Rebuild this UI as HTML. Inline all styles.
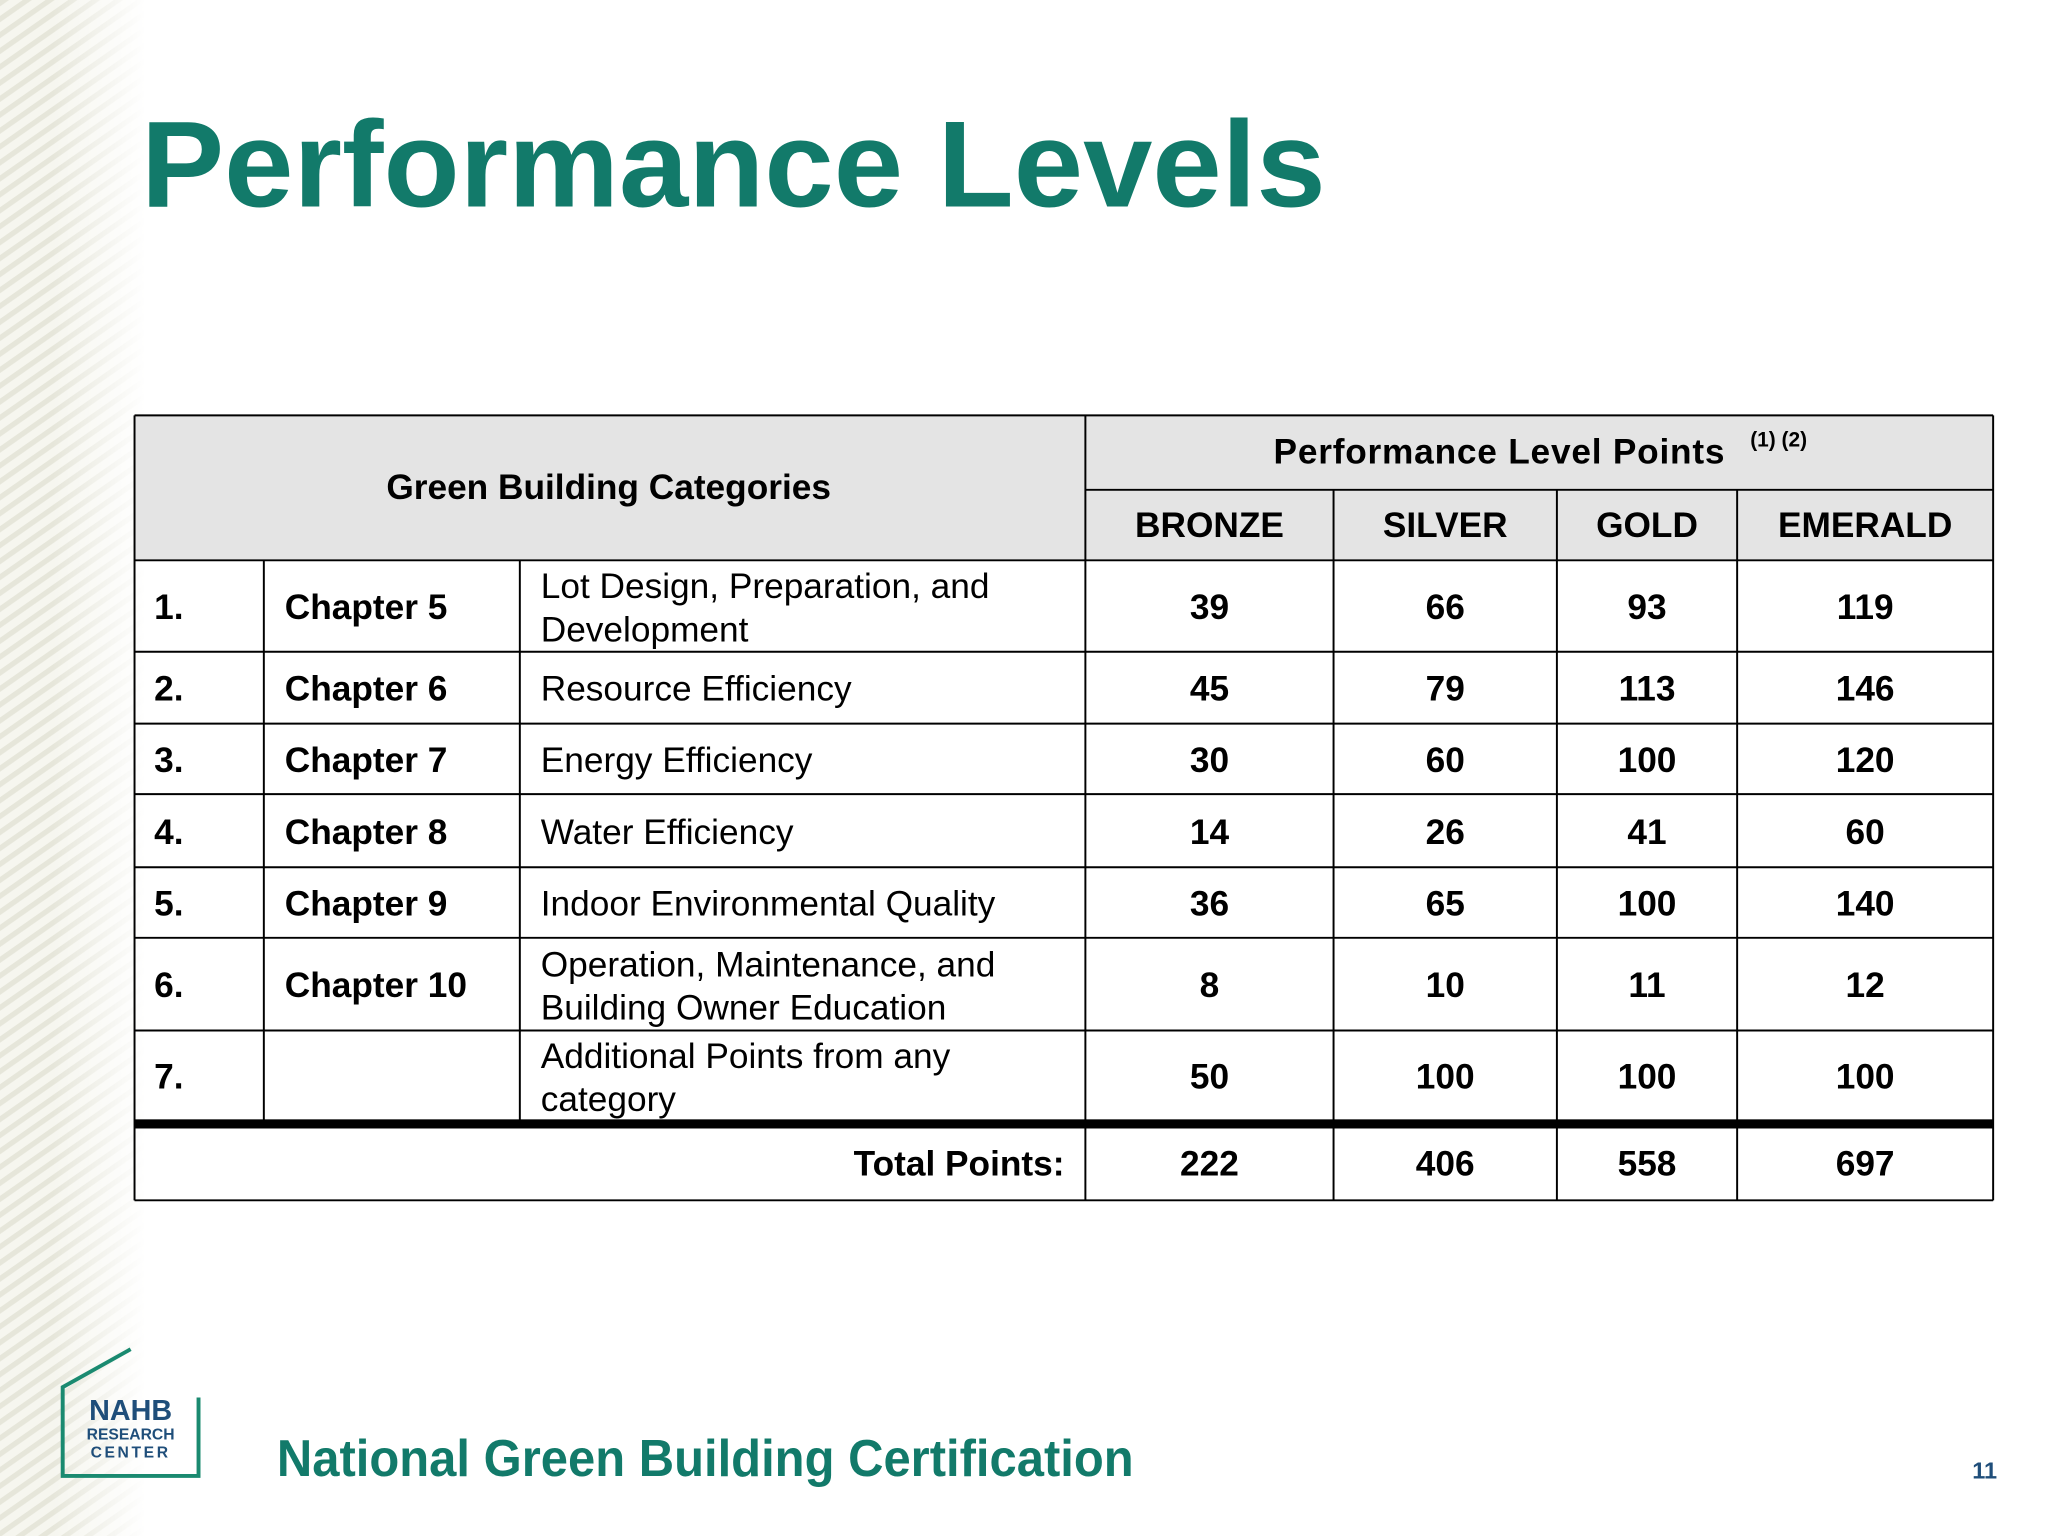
<!DOCTYPE html>
<html><head><meta charset="utf-8"><style>
html,body{margin:0;padding:0;background:#fff}
svg{display:block}
text{font-family:"Liberation Sans",sans-serif}
</style></head><body>
<svg id="s" width="2048" height="1536" viewBox="0 0 1568 1176">
<defs>
<pattern id="stripe" width="10" height="10" patternUnits="userSpaceOnUse" patternTransform="rotate(-35)">
<rect width="10" height="10" fill="#f6f6ef"/><rect width="10" height="4" fill="#e6e6da"/></pattern>
<linearGradient id="fade" x1="0" x2="1"><stop offset="0" stop-color="#fff" stop-opacity="0"/><stop offset="1" stop-color="#fff" stop-opacity="1"/></linearGradient>
</defs>
<rect x="0" y="0" width="110" height="1176" fill="url(#stripe)"/>
<rect x="40" y="0" width="72" height="1176" fill="url(#fade)"/>
<text x="108" y="158" font-size="94" font-weight="bold" fill="#127a6a" textLength="907" lengthAdjust="spacingAndGlyphs">Performance Levels</text>
<g id="tbl"></g>
<g>
<polyline points="100,1033 48,1062 48,1130 152,1130 152,1070" fill="none" stroke="#1a8a70" stroke-width="3"/>
<text x="100" y="1087" font-size="22" font-weight="bold" fill="#1f4e7a" text-anchor="middle">NAHB</text>
<text x="100" y="1102" font-size="12" font-weight="bold" fill="#1f4e7a" text-anchor="middle">RESEARCH</text>
<text x="100" y="1116" font-size="12" font-weight="bold" fill="#1f4e7a" text-anchor="middle" letter-spacing="2">CENTER</text>
</g>
<text x="212" y="1130" font-size="40" font-weight="bold" fill="#127a6a" textLength="656" lengthAdjust="spacingAndGlyphs">National Green Building Certification</text>
<text x="1510" y="1132" font-size="18" font-weight="bold" fill="#1f4e7a">11</text>
</svg>
<script>
const nums=["1.","2.","3.","4.","5.","6.","7."];
const chapters=["Chapter 5","Chapter 6","Chapter 7","Chapter 8","Chapter 9","Chapter 10",""];
const descs=[["Lot Design, Preparation, and","Development"],["Resource Efficiency"],["Energy Efficiency"],["Water Efficiency"],["Indoor Environmental  Quality"],["Operation, Maintenance, and","Building Owner Education"],["Additional Points from any","category"]];
const levels=["BRONZE","SILVER","GOLD","EMERALD"];
const bronze=[39,45,30,14,36,8,50];
const silver=[66,79,60,26,65,10,100];
const gold=[93,113,100,41,100,11,100];
const emerald=[119,146,120,60,140,12,100];
const totals=[222,406,558,697];
const g=document.getElementById('tbl');const NS="http://www.w3.org/2000/svg";
function el(t,a,txt){const e=document.createElementNS(NS,t);for(const k in a)e.setAttribute(k,a[k]);if(txt!=null)e.textContent=txt;g.appendChild(e);return e;}
const X=[103,202,398,831,1021,1192,1330,1526];
const Y=[429,499,554,608,664,718,789,858];
const series=[bronze,silver,gold,emerald];
let r=el('rect',{x:103,y:318,width:1423,height:111,fill:'#e4e4e4'});


const L=(x1,y1,x2,y2,w)=>el('line',{x1,y1,x2,y2,stroke:'#000','stroke-width':w||1.5});
L(103,318,1526,318);L(831,375,1526,375);L(103,429,1526,429);
for(let i=1;i<Y.length-1;i++)L(103,Y[i],1526,Y[i]);
el('rect',{x:103,y:857,width:1423,height:7,fill:'#000'});
L(103,919,1526,919);
L(103,318,103,919);L(1526,318,1526,919);L(831,318,831,919);
for(const x of [1021,1192,1330])L(x,375,x,919);
for(const x of [202,398])L(x,429,x,858);
const T=(x,y,s,o)=>{const t=el('text',Object.assign({x,y,'font-size':27,fill:'#000'},o||{}),s);return t;};
let t=T(466,382,"Green Building Categories",{'text-anchor':'middle','font-weight':'bold'});


t=T(1148,355,"Performance Level Points",{'text-anchor':'middle','font-weight':'bold','letter-spacing':'0.6'});


T(1340,342,"(1) (2)",{'font-size':16,'font-weight':'bold'});
levels.forEach((lv,j)=>{const t=T((X[3+j]+X[4+j])/2,411,lv,{'text-anchor':'middle','font-weight':'bold'});

});
for(let i=0;i<7;i++){const cy=(Y[i]+Y[i+1])/2+10;
T(118,cy,nums[i],{'font-weight':'bold'});
if(chapters[i])T(218,cy,chapters[i],{'font-weight':'bold'});
const d=descs[i];
if(d.length==1)T(414,cy,d[0]);else{T(414,cy-16,d[0]);T(414,cy+17,d[1]);}
series.forEach((s,j)=>{const t=T((X[3+j]+X[4+j])/2,cy,String(s[i]),{'text-anchor':'middle','font-weight':'bold'});

});}
T(815,900,"Total Points:",{'text-anchor':'end','font-weight':'bold'});
totals.forEach((v,j)=>{const t=T((X[3+j]+X[4+j])/2,900,String(v),{'text-anchor':'middle','font-weight':'bold'});

});
</script>
</body></html>
